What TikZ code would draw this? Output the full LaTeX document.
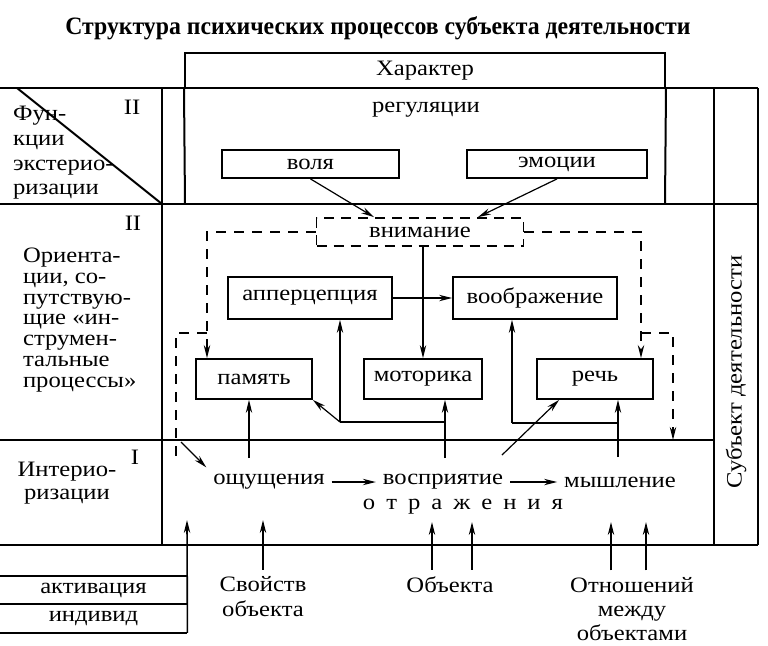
\documentclass[tikz,border=0pt]{standalone}
\usepackage{fontspec}
\setmainfont{Liberation Serif}[FakeStretch=1.12]
\newfontfamily\titlefont{Liberation Serif}[FakeStretch=0.95]
\usetikzlibrary{arrows.meta, positioning}
\tikzstyle{block} = [rectangle, draw=black, line width=0.9pt, minimum height=20pt, text centered, inner sep=0pt]
\tikzstyle{dblock} = [block, dash pattern=on 5pt off 3.5pt]
\tikzstyle{arrow} = [->, >={Stealth[length=6.5pt,width=3.2pt]}, line width=0.6pt]
\tikzstyle{line} = [-, line width=0.6pt]
\tikzstyle{dasharrow} = [arrow, line width=0.7pt, dash pattern=on 5pt off 4pt]
\tikzstyle{dashline} = [line, line width=0.7pt, dash pattern=on 5pt off 4pt]
\tikzstyle{frame} = [line width=1pt]

\begin{document}
\begin{tikzpicture}[x=0.5pt, y=-0.5pt, font=\fontsize{11}{12.5}\selectfont]
    \useasboundingbox (0,0) rectangle (768,645);

    \node (title) at (378, 28) {\titlefont\bfseries\fontsize{12.5}{14}\selectfont Структура психических процессов субъекта деятельности};
    \node (harakter) [block, line width=1pt, minimum width=240pt, minimum height=17.5pt] at (425, 70.5) {Характер};

    % frame
    \draw [frame] (0,88) -- (758,88);
    \draw [frame] (0,204) -- (758,204);
    \draw [frame] (0,440) -- (714,440);
    \draw [frame] (0,545) -- (758,545);
    \draw [frame] (162,88) -- (162,545);
    \draw [frame] (harakter.south west) -- (185,204);
    \draw [frame] (harakter.south east) -- (665,204);
    \draw [frame] (714,88) -- (714,545);
    \draw [frame] (758,88) -- (758,545);
    \draw [frame] (17,88) -- (162,204);

    % left column
    \node (ext) [anchor=west, align=left, font=\fontsize{11}{12.35}\selectfont] at (6,153) {Фун-\\кции\\экстерио-\\ризации};
    \node (orient) [anchor=west, align=left, font=\fontsize{11}{10.4}\selectfont] at (16,320) {Ориента-\\ции, со-\\путствую-\\щие «ин-\\струмен-\\тальные\\процессы»};
    \node (inter) [align=center, font=\fontsize{11}{11.5}\selectfont] at (67,483) {Интерио-\\ризации};
    \node (lvl2a) at (132,107) {II};
    \node (lvl2b) at (133,223) {II};
    \node (lvl1) at (135,457) {I};
    \node (subj) [rotate=90] at (736,372) {Субъект деятельности};

    % processes
    \node (regul) at (426,110) {регуляции};
    \node (volya) [block, minimum width=88.5pt, minimum height=14pt] at (310.5,164) {воля};
    \node (emocii) [block, minimum width=90pt, minimum height=14pt] at (557,164) {эмоции};
    \node (vnimanie) [dblock, minimum width=103.5pt, minimum height=14pt] at (420,232) {внимание};
    \node (apperc) [block, minimum width=82pt, minimum height=21pt] at (310,298) {апперцепция};
    \node (voobr) [block, minimum width=82pt, minimum height=21pt] at (535,298) {воображение};
    \node (pamyat) [block, minimum width=58pt] at (254,379) {память};
    \node (motor) [block, minimum width=59pt] at (423,379) {моторика};
    \node (rech) [block, minimum width=58pt] at (595,379) {речь};

    \node (oshch) at (269,482) {ощущения};
    \node (vospr) at (443,482) {восприятие};
    \node (mysh) at (620,482) {мышление};
    \node (otrazh) at (463,507) {о\enspace т\enspace р\enspace а\enspace ж\enspace е\enspace н\enspace и\enspace я};

    % bottom
    \node (aktiv) [minimum width=93.5pt, minimum height=14pt, inner sep=0pt] at (93.5,590) {активация};
    \node (indiv) [minimum width=93.5pt, minimum height=14pt, inner sep=0pt] at (93.5,618.5) {индивид};
    \node (svoistv) [align=center] at (263,597) {Свойств\\объекта};
    \node (obekta) at (450,585) {Объекта};
    \node (otnosh) [align=center, font=\fontsize{11}{12}\selectfont] at (632,609) {Отношений\\между\\объектами};

    \coordinate (lcorner) at (207,232);
    \coordinate (lbranch) at (207,333);
    \coordinate (lfar) at (176,333);
    \coordinate (lfarend) at (176,457);
    \coordinate (lstart) at (181,442);
    \coordinate (rcorner) at (641,232);
    \coordinate (rbranch) at (641,333);
    \coordinate (rfar) at (673,333);
    \coordinate (rfarend) at (673,440);
    \coordinate (oshchtop) at (249,458);
    \coordinate (vosprtop) at (445,458);
    \coordinate (leftfork) at (340,422);
    \coordinate (vosprne) at (502,455);
    \coordinate (mysltop) at (618,457);
    \coordinate (rightfork) at (512,423);
    \coordinate (aktivtip) at (187,520);
    \coordinate (svtip) at (263,520);
    \coordinate (objtipL) at (432,522);
    \coordinate (objtipR) at (472,522);
    \coordinate (otntipL) at (611,522);
    \coordinate (otntipR) at (646,522);

    \draw [arrow] (volya.south) -- ([xshift=-23pt]vnimanie.north);
    \draw [arrow] (emocii.south) -- ([xshift=29pt]vnimanie.north);
    \draw [dasharrow] (vnimanie.west) -- (lcorner) -- (lcorner |- pamyat.north);
    \draw [dasharrow] (vnimanie.east) -- (rcorner) -- (rcorner |- rech.north);
    \draw [dashline] (lbranch) -- (lfar) -- (lfarend);
    \draw [dasharrow] (rbranch) -- (rfar) -- (rfarend);
    \draw [arrow] (lstart) -- (oshch.north west);
    \draw [arrow] (apperc) -- (voobr);
    \draw [arrow] (vnimanie.south -| motor) -- (motor.north);
    \draw [arrow] (oshchtop) -- (oshchtop |- pamyat.south);
    \draw [arrow] (vosprtop) -- (vosprtop |- motor.south);
    \draw [line] (vosprtop |- leftfork) -- (leftfork);
    \draw [arrow] (leftfork) -- (leftfork |- apperc.south);
    \draw [arrow] (leftfork) -- (pamyat.south east);
    \draw [arrow] (mysltop) -- (mysltop |- rech.south);
    \draw [line] (mysltop |- rightfork) -- (rightfork);
    \draw [arrow] (rightfork) -- (rightfork |- voobr.south);
    \draw [arrow] (vosprne) -- ([xshift=11.5pt]rech.south west);
    \draw [arrow] (oshch) -- (vospr);
    \draw [arrow] (vospr) -- (mysh);

    \draw [frame] (aktiv.north west) -- (aktiv.north east);
    \draw [frame] (aktiv.south west) -- (aktiv.south east);
    \draw [frame] (indiv.south west) -- (indiv.south east);
    \draw [arrow, line width=0.8pt] (indiv.south east) -- (aktivtip);
    \draw [arrow] (svoistv.north) -- (svtip);
    \draw [arrow] (objtipL |- obekta.north) -- (objtipL);
    \draw [arrow] (objtipR |- obekta.north) -- (objtipR);
    \draw [arrow] (otntipL |- otnosh.north) -- (otntipL);
    \draw [arrow] (otntipR |- otnosh.north) -- (otntipR);

\end{tikzpicture}
\end{document}
